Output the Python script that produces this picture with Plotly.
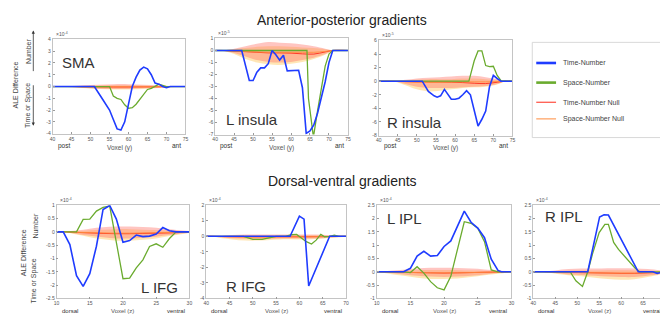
import plotly.graph_objects as go

W, H = 668, 314

# ---------------- DATA ----------------
panel_names = ["SMA", "L insula", "R insula", "L IFG", "R IFG", "L IPL", "R IPL"]
exponents = ["-4", "-5", "-5", "-4", "-4", "-4", "-4"]

# Time-Number (blue) / Space-Number (green)
sma_tn_x = [40, 51, 53, 55, 56, 57, 58, 59, 60, 61, 62, 63, 64, 65, 66, 67, 68, 69, 70, 71, 75]
sma_tn_y = [0, 0, -1.0, -2.0, -2.8, -3.6, -3.7, -3.0, -1.5, 0.0, 0.8, 1.4, 1.65, 1.5, 1.0, 0.3, 0.2, 0.0, -0.1, 0, 0]
sma_sn_x = [40, 55, 56, 57, 58, 59, 60, 61, 62, 63, 64, 65, 66, 67, 68, 69, 70, 75]
sma_sn_y = [0, 0, -0.8, -1.0, -1.1, -1.55, -1.85, -1.8, -1.5, -1.1, -0.7, -0.25, -0.15, 0.0, 0.2, 0.1, 0, 0]

lins_tn_x = [40, 47, 49, 50, 51, 52, 53, 54, 55, 56, 57, 58, 59, 60, 62, 63, 64, 65, 66, 67, 68, 69, 70, 71, 75]
lins_tn_y = [0, 0, -2.5, -2.5, -1.8, -1.45, -1.45, -1.1, 0.0, -0.35, -0.8, -0.4, -1.7, -1.7, -1.65, -3.1, -6.9, -6.7, -6.2, -5.2, -4.0, -2.6, -1.0, 0.0, 0]
lins_sn_x = [40, 64.2, 64.6, 65.9, 67, 68, 69, 70, 71, 75]
lins_sn_y = [0, 0, -4.0, -7.2, -5.0, -3.0, -1.3, -0.3, 0, 0]

rins_tn_x = [40, 51.4, 53, 54.5, 55.3, 56.2, 57.2, 58, 59, 60, 61, 62, 63, 64, 65, 66, 67, 68, 69, 70, 71, 72, 75]
rins_tn_y = [0, 0, -1.5, -2.15, -2.35, -2.15, -1.2, -1.8, -2.65, -2.65, -2.5, -2.0, -1.4, -2.0, -4.4, -6.6, -5.6, -4.4, -0.8, 0.85, 0.4, 0, 0]
rins_sn_x = [40, 63.6, 65, 66, 67, 68, 69, 70, 71, 72, 75]
rins_sn_y = [0, 0, 3.0, 4.45, 4.45, 2.3, 2.15, 2.2, 0.85, 0.1, 0]

lifg_tn_x = [10, 11, 12, 13, 14, 15, 16, 17, 18, 19, 20, 21, 22, 23, 24, 25, 26, 27, 28, 30]
lifg_tn_y = [0, 0, -0.48, -1.65, -2.05, -1.57, -0.54, 0.84, 0.99, 0.48, -0.39, -0.33, -0.12, -0.18, -0.16, -0.08, 0.16, 0.04, 0, 0]
lifg_sn_x = [10, 13, 14, 15, 16, 17, 18, 19, 20, 21, 22, 23, 24, 25, 26, 27, 28, 30]
lifg_sn_y = [0, 0, 0.47, 0.48, 0.78, 0.92, 0.97, -0.4, -1.76, -1.74, -1.35, -1.05, -0.55, -0.45, -0.58, -0.25, 0, 0]

rifg_tn_x = [40, 50, 51, 53, 54, 58, 60, 61, 62, 66.5, 70]
rifg_tn_y = [0, 0, -0.04, -0.04, 0, 0, 1.3, 1.1, -3.2, 0, 0]
rifg_sn_x = [40, 48, 50, 52, 53.5, 55, 57, 58.3, 59.4, 60.5, 61.5, 62.6, 63.6, 64.6, 65.4, 66.5, 67.5, 68.5, 70]
rifg_sn_y = [0, 0, -0.2, -0.2, -0.1, 0, 0, 0.1, 0.12, -0.1, -0.35, -0.5, -0.25, 0.12, -0.03, 0.0, 0.07, 0, 0]

lipl_tn_x = [10, 14, 15, 16, 17, 18, 19, 20, 21, 22, 23, 24, 25, 26, 27, 28, 28.5, 30]
lipl_tn_y = [0, 0, 0.13, 0.59, 0.77, 0.59, 0.61, 0.95, 1.16, 1.74, 2.28, 1.86, 1.64, 1.28, 0.47, 0.05, 0, 0]
lipl_sn_x = [10, 14, 15, 16, 17, 18, 19, 20, 21, 22, 23, 24, 25, 26, 27, 28, 30]
lipl_sn_y = [0, 0, -0.03, 0.19, -0.05, -0.37, -0.6, -0.68, -0.17, 0.89, 1.88, 1.82, 1.64, 1.13, 0.07, 0, 0]

ripl_tn_x = [40, 52.4, 55.1, 56.1, 57.1, 63, 63.9, 67.2, 68.2, 69, 70]
ripl_tn_y = [0, 0, 2.06, 2.14, 2.13, 0.25, 0, 0, -0.06, -0.03, 0]
ripl_sn_x = [40, 48.4, 49.7, 51.2, 52.4, 53.5, 55, 56.3, 57.1, 58.3, 59.4, 60.9, 63.1, 64.2, 70]
ripl_sn_y = [0, 0, -0.34, -0.55, 0, 0.68, 1.47, 1.78, 1.78, 1.1, 0.84, 0.55, 0.15, 0, 0]

# Null distributions (band edges and means), per panel
sma_nx = [44, 48, 52, 56, 60, 64, 68, 72]
sma_t_hi = [0, 0.1, 0.15, 0.2, 0.2, 0.15, 0.1, 0]
sma_t_lo = [0, -0.1, -0.18, -0.2, -0.2, -0.15, -0.1, 0]
sma_s_hi = [0, 0.05, 0.08, 0.1, 0.1, 0.08, 0.05, 0]
sma_s_lo = [0, -0.12, -0.2, -0.25, -0.25, -0.2, -0.12, 0]
sma_t_m = [0, -0.02, -0.03, -0.04, -0.04, -0.03, -0.02, 0]
sma_s_m = [0, -0.01, -0.02, -0.02, -0.02, -0.02, -0.01, 0]

lins_nx = [42, 45, 48, 51, 54, 57, 60, 63, 66, 69, 71]
lins_t_hi = [0, 0.15, 0.35, 0.55, 0.7, 0.65, 0.6, 0.5, 0.35, 0.15, 0]
lins_t_lo = [0, -0.2, -0.5, -0.8, -0.95, -1.0, -0.95, -0.8, -0.6, -0.3, 0]
lins_s_hi = [0, 0.1, 0.2, 0.3, 0.35, 0.35, 0.3, 0.25, 0.2, 0.1, 0]
lins_s_lo = [0, -0.3, -0.7, -1.0, -1.15, -1.2, -1.1, -0.95, -0.7, -0.35, 0]
lins_t_m = [0, -0.05, -0.1, -0.15, -0.2, -0.2, -0.22, -0.28, -0.3, -0.12, 0]
lins_s_m = [0, -0.04, -0.08, -0.12, -0.15, -0.15, -0.15, -0.15, -0.15, -0.08, 0]

rins_nx = [44, 47, 50, 53, 56, 59, 62, 65, 68, 71, 73]
rins_t_hi = [0, 0.2, 0.4, 0.5, 0.6, 0.7, 0.8, 0.8, 0.6, 0.3, 0]
rins_t_lo = [0, -0.4, -0.8, -1.0, -1.0, -1.0, -0.9, -0.8, -0.7, -0.4, 0]
rins_s_hi = [0, 0.1, 0.2, 0.3, 0.3, 0.3, 0.4, 0.4, 0.3, 0.2, 0]
rins_s_lo = [0, -0.6, -1.2, -1.5, -1.4, -1.2, -1.0, -0.9, -0.8, -0.5, 0]
rins_t_m = [0, -0.05, -0.1, -0.12, -0.12, -0.15, -0.2, -0.3, -0.35, -0.15, 0]
rins_s_m = [0, -0.08, -0.15, -0.18, -0.15, -0.12, -0.1, -0.1, -0.1, -0.05, 0]

lifg_nx = [11, 13, 15, 17, 19, 21, 23, 25, 27, 29, 30]
lifg_t_hi = [0, 0.05, 0.12, 0.17, 0.2, 0.2, 0.18, 0.15, 0.1, 0.05, 0.03]
lifg_t_lo = [0, -0.08, -0.15, -0.2, -0.25, -0.25, -0.22, -0.18, -0.12, -0.06, -0.03]
lifg_s_hi = [0, 0.03, 0.06, 0.08, 0.1, 0.1, 0.08, 0.07, 0.05, 0.03, 0.02]
lifg_s_lo = [0, -0.1, -0.2, -0.28, -0.33, -0.33, -0.3, -0.25, -0.16, -0.08, -0.04]
lifg_t_m = [0, -0.02, -0.04, -0.06, -0.07, -0.07, -0.06, -0.05, -0.04, -0.02, -0.01]
lifg_s_m = [0, -0.02, -0.03, -0.04, -0.05, -0.05, -0.04, -0.03, -0.02, -0.01, 0]

rifg_nx = [41, 44, 47, 50, 53, 56, 59, 62, 65, 68, 70]
rifg_t_hi = [0, 0.05, 0.1, 0.12, 0.12, 0.12, 0.12, 0.12, 0.1, 0.05, 0.02]
rifg_t_lo = [0, -0.1, -0.15, -0.18, -0.18, -0.15, -0.15, -0.15, -0.12, -0.06, -0.02]
rifg_s_hi = [0, 0.03, 0.05, 0.06, 0.06, 0.06, 0.06, 0.06, 0.05, 0.03, 0.01]
rifg_s_lo = [0, -0.15, -0.25, -0.28, -0.25, -0.2, -0.2, -0.2, -0.15, -0.08, -0.03]
rifg_t_m = [0, -0.02, -0.03, -0.03, -0.03, -0.03, -0.03, -0.03, -0.02, -0.01, 0]
rifg_s_m = [0, -0.02, -0.04, -0.05, -0.04, -0.03, -0.03, -0.03, -0.02, -0.01, 0]

lipl_nx = [10, 12, 14, 16, 18, 20, 22, 24, 26, 28, 30]
lipl_t_hi = [0, 0.04, 0.08, 0.12, 0.15, 0.15, 0.14, 0.12, 0.09, 0.05, 0.02]
lipl_t_lo = [0, -0.05, -0.1, -0.15, -0.18, -0.2, -0.18, -0.15, -0.1, -0.05, -0.02]
lipl_s_hi = [0, 0.02, 0.04, 0.06, 0.07, 0.07, 0.06, 0.05, 0.04, 0.02, 0.01]
lipl_s_lo = [0, -0.08, -0.15, -0.22, -0.27, -0.27, -0.25, -0.2, -0.13, -0.07, -0.02]
lipl_t_m = [0, -0.01, -0.02, -0.03, -0.04, -0.05, -0.04, -0.03, -0.02, -0.01, 0]
lipl_s_m = [0, -0.01, -0.02, -0.03, -0.04, -0.04, -0.04, -0.03, -0.02, -0.01, 0]

ripl_nx = [42, 45, 48, 51, 54, 57, 60, 63, 66, 69, 70]
ripl_t_hi = [0, 0.05, 0.1, 0.12, 0.12, 0.13, 0.13, 0.12, 0.1, 0.05, 0.02]
ripl_t_lo = [0, -0.05, -0.1, -0.12, -0.15, -0.18, -0.2, -0.2, -0.15, -0.08, -0.03]
ripl_s_hi = [0, 0.02, 0.04, 0.05, 0.05, 0.06, 0.06, 0.05, 0.04, 0.02, 0.01]
ripl_s_lo = [0, -0.07, -0.13, -0.17, -0.22, -0.27, -0.3, -0.28, -0.2, -0.1, -0.04]
ripl_t_m = [0, -0.01, -0.02, -0.03, -0.04, -0.05, -0.06, -0.06, -0.04, -0.02, 0]
ripl_s_m = [0, -0.01, -0.02, -0.03, -0.04, -0.05, -0.05, -0.05, -0.03, -0.02, 0]

# Axis ticks
x_ticks_ap = [40, 45, 50, 55, 60, 65, 70, 75]
x_ticks_dv_a = [10, 15, 20, 25, 30]
x_ticks_dv_b = [40, 45, 50, 55, 60, 65, 70]
y_ticks_sma = [-4, -3, -2, -1, 0, 1, 2, 3, 4]
y_ticks_lins = [-7, -6, -5, -4, -3, -2, -1, 0, 1]
y_ticks_rins = [-8, -6, -4, -2, 0, 2, 4, 6]
y_ticks_lifg = [-2.5, -2, -1.5, -1, -0.5, 0, 0.5, 1]
y_ticks_rifg = [-4, -3, -2, -1, 0, 1, 2]
y_ticks_ipl = [-1, -0.5, 0, 0.5, 1, 1.5, 2, 2.5]

legend_labels = ["Time-Number", "Space-Number", "Time-Number Null", "Space-Number Null"]

# ---------------- STYLE / LAYOUT ----------------
BLUE = "#1f3cff"
GREEN = "#6aab2e"
RED = "#ff2a1a"
ORANGE = "#ff8a3c"
PINK_FILL = "rgba(255,110,100,0.40)"
YEL_FILL = "rgba(255,200,90,0.45)"
FONT = "Liberation Sans, Arial, sans-serif"

def px(x):
    return x / W

def py(y):
    return 1 - y / H

panels = [
    dict(box=(42, 176, 29, 125), xr=[40, 75], yr=[-4, 4], xt=x_ticks_ap, yt=y_ticks_sma,
         tn=(sma_tn_x, sma_tn_y), sn=(sma_sn_x, sma_sn_y),
         nul=(sma_nx, sma_t_hi, sma_t_lo, sma_s_hi, sma_s_lo, sma_t_m, sma_s_m),
         lab=(49, 53), axes="ap"),
    dict(box=(206, 340, 28, 126), xr=[40, 75], yr=[-7, 1], xt=x_ticks_ap, yt=y_ticks_lins,
         tn=(lins_tn_x, lins_tn_y), sn=(lins_sn_x, lins_sn_y),
         nul=(lins_nx, lins_t_hi, lins_t_lo, lins_s_hi, lins_s_lo, lins_t_m, lins_s_m),
         lab=(215, 111), axes="ap"),
    dict(box=(371, 506, 30, 127), xr=[40, 75], yr=[-8, 6], xt=x_ticks_ap, yt=y_ticks_rins,
         tn=(rins_tn_x, rins_tn_y), sn=(rins_sn_x, rins_sn_y),
         nul=(rins_nx, rins_t_hi, rins_t_lo, rins_s_hi, rins_s_lo, rins_t_m, rins_s_m),
         lab=(377, 114), axes="ap"),
    dict(box=(46, 180, 198, 293), xr=[10, 30], yr=[-2.5, 1], xt=x_ticks_dv_a, yt=y_ticks_lifg,
         tn=(lifg_tn_x, lifg_tn_y), sn=(lifg_sn_x, lifg_sn_y),
         nul=(lifg_nx, lifg_t_hi, lifg_t_lo, lifg_s_hi, lifg_s_lo, lifg_t_m, lifg_s_m),
         lab=(129, 282), axes="dv"),
    dict(box=(197, 338, 198, 293), xr=[40, 70], yr=[-4, 2], xt=x_ticks_dv_b, yt=y_ticks_rifg,
         tn=(rifg_tn_x, rifg_tn_y), sn=(rifg_sn_x, rifg_sn_y),
         nul=(rifg_nx, rifg_t_hi, rifg_t_lo, rifg_s_hi, rifg_s_lo, rifg_t_m, rifg_s_m),
         lab=(215, 281), axes="dv"),
    dict(box=(369, 505, 198, 293), xr=[10, 30], yr=[-1, 2.5], xt=x_ticks_dv_a, yt=y_ticks_ipl,
         tn=(lipl_tn_x, lipl_tn_y), sn=(lipl_sn_x, lipl_sn_y),
         nul=(lipl_nx, lipl_t_hi, lipl_t_lo, lipl_s_hi, lipl_s_lo, lipl_t_m, lipl_s_m),
         lab=(377, 212), axes="dv"),
    dict(box=(527, 660, 198, 293), xr=[40, 70], yr=[-1, 2.5], xt=x_ticks_dv_b, yt=y_ticks_ipl,
         tn=(ripl_tn_x, ripl_tn_y), sn=(ripl_sn_x, ripl_sn_y),
         nul=(ripl_nx, ripl_t_hi, ripl_t_lo, ripl_s_hi, ripl_s_lo, ripl_t_m, ripl_s_m),
         lab=(537, 210), axes="dv"),
]

fig = go.Figure()
annotations = []
shapes = []

for i, p in enumerate(panels):
    n = i + 1
    xa = "x" if n == 1 else f"x{n}"
    ya = "y" if n == 1 else f"y{n}"
    l, r, t, b = p["box"]
    nx, thi, tlo, shi, slo, tm, sm = p["nul"]
    common = dict(xaxis=xa, yaxis=ya, showlegend=False, hoverinfo="skip")
    fig.add_trace(go.Scatter(x=nx, y=shi, mode="lines", line=dict(width=0, shape="spline"), **common))
    fig.add_trace(go.Scatter(x=nx, y=slo, mode="lines", line=dict(width=0, shape="spline"),
                             fill="tonexty", fillcolor=YEL_FILL, **common))
    fig.add_trace(go.Scatter(x=nx, y=thi, mode="lines", line=dict(width=0, shape="spline"), **common))
    fig.add_trace(go.Scatter(x=nx, y=tlo, mode="lines", line=dict(width=0, shape="spline"),
                             fill="tonexty", fillcolor=PINK_FILL, **common))
    xmin, xmax = p["xr"]
    fig.add_trace(go.Scatter(x=[xmin] + nx + [xmax], y=[0] + tm + [0], mode="lines",
                             line=dict(color=RED, width=0.9, shape="spline"), **common))
    fig.add_trace(go.Scatter(x=[xmin] + nx + [xmax], y=[0] + sm + [0], mode="lines",
                             line=dict(color=ORANGE, width=0.9, shape="spline"), **common))
    fig.add_trace(go.Scatter(x=p["sn"][0], y=p["sn"][1], mode="lines",
                             line=dict(color=GREEN, width=1.3), **common))
    fig.add_trace(go.Scatter(x=p["tn"][0], y=p["tn"][1], mode="lines",
                             line=dict(color=BLUE, width=1.6), **common))

    axstyle = dict(showgrid=False, zeroline=False, showline=True, mirror=True,
                   linecolor="#c4c4c4", linewidth=0.8, ticks="inside", ticklen=2,
                   tickcolor="#9a9a9a", tickwidth=0.6,
                   tickfont=dict(size=5, color="#555", family=FONT))
    fig.layout[f"xaxis{'' if n == 1 else n}"] = dict(
        domain=[px(l), px(r)], anchor=ya, range=p["xr"], tickvals=p["xt"],
        ticktext=[str(v) for v in p["xt"]], fixedrange=True, **axstyle)
    fig.layout[f"yaxis{'' if n == 1 else n}"] = dict(
        domain=[py(b), py(t)], anchor=xa, range=p["yr"], tickvals=p["yt"],
        ticktext=[(str(v) if v != int(v) else str(int(v))) for v in p["yt"]],
        fixedrange=True, **axstyle)

    annotations.append(dict(xref="paper", yref="paper", x=px(l + 1), y=py(t - 0.5),
                            xanchor="left", yanchor="bottom", showarrow=False,
                            text=f"×10<sup>{exponents[i]}</sup>",
                            font=dict(size=5, color="#555", family=FONT)))
    lx, ly = p["lab"]
    annotations.append(dict(xref="paper", yref="paper", x=px(lx), y=py(ly),
                            xanchor="left", yanchor="middle", showarrow=False,
                            text=panel_names[i], font=dict(size=15, color="#333", family=FONT)))
    if p["axes"] == "ap":
        left_t, mid_t, right_t, yy, fs = "post", "Voxel (y)", "ant", 138, 6.5
    else:
        left_t, mid_t, right_t, yy, fs = "dorsal", "Voxel (z)", "ventral", 305.5, 6
    annotations.append(dict(xref="paper", yref="paper", x=px(l + 3), y=py(yy),
                            xanchor="left", yanchor="middle", showarrow=False, text=left_t,
                            font=dict(size=fs, color="#333", family=FONT)))
    annotations.append(dict(xref="paper", yref="paper", x=px((l + r) / 2),
                            y=py(yy + (1.5 if p["axes"] == "ap" else 0)),
                            xanchor="center", yanchor="middle", showarrow=False, text=mid_t,
                            font=dict(size=fs, color="#555", family=FONT)))
    annotations.append(dict(xref="paper", yref="paper", x=px(r - 2),
                            y=py(yy - (1 if p["axes"] == "ap" else 0)),
                            xanchor="right", yanchor="middle", showarrow=False, text=right_t,
                            font=dict(size=fs, color="#333", family=FONT)))

annotations.append(dict(xref="paper", yref="paper", x=px(334), y=py(9), xanchor="center",
                        yanchor="middle", showarrow=False, text="Anterior-posterior gradients",
                        font=dict(size=14, color="#222", family=FONT)))
annotations.append(dict(xref="paper", yref="paper", x=px(334), y=py(173), xanchor="center",
                        yanchor="middle", showarrow=False, text="Dorsal-ventral gradients",
                        font=dict(size=14, color="#222", family=FONT)))

ylab_font = dict(size=7, color="#444", family=FONT)
for (txt, x, y) in [("ALE Difference", 5, 75), ("Number", 17, 41), ("Time or Space", 17, 96),
                    ("ALE Difference", 12, 246), ("Number", 25, 219), ("Time or Space", 23, 275)]:
    annotations.append(dict(xref="paper", yref="paper", x=px(x), y=py(y), xanchor="center",
                            yanchor="middle", showarrow=False, text=txt, textangle=-90,
                            font=ylab_font))
annotations.append(dict(xref="paper", yref="paper", x=px(22.5), y=py(20), ax=0, ay=42,
                        text="", showarrow=True, arrowhead=2, arrowsize=0.8, arrowwidth=0.8,
                        arrowcolor="#333"))
annotations.append(dict(xref="paper", yref="paper", x=px(22.5), y=py(117), ax=0, ay=-42,
                        text="", showarrow=True, arrowhead=2, arrowsize=0.8, arrowwidth=0.8,
                        arrowcolor="#333"))

shapes.append(dict(type="rect", xref="paper", yref="paper", x0=px(526), x1=px(662),
                   y0=py(129), y1=py(32), line=dict(color="#cfcfcf", width=0.8),
                   fillcolor="white"))
leg_colors = [BLUE, GREEN, RED, ORANGE]
leg_widths = [2.6, 2.6, 1.0, 1.0]
leg_y = [53, 73, 93, 110]
for lab, c, w, yy in zip(legend_labels, leg_colors, leg_widths, leg_y):
    shapes.append(dict(type="line", xref="paper", yref="paper", x0=px(530), x1=px(550),
                       y0=py(yy), y1=py(yy), line=dict(color=c, width=w)))
    annotations.append(dict(xref="paper", yref="paper", x=px(555), y=py(yy), xanchor="left",
                            yanchor="middle", showarrow=False, text=lab,
                            font=dict(size=7, color="#444", family=FONT)))

fig.update_layout(width=W, height=H, margin=dict(l=0, r=0, t=0, b=0),
                  paper_bgcolor="white", plot_bgcolor="white",
                  annotations=annotations, shapes=shapes, showlegend=False)

fig.write_html("out.html")
